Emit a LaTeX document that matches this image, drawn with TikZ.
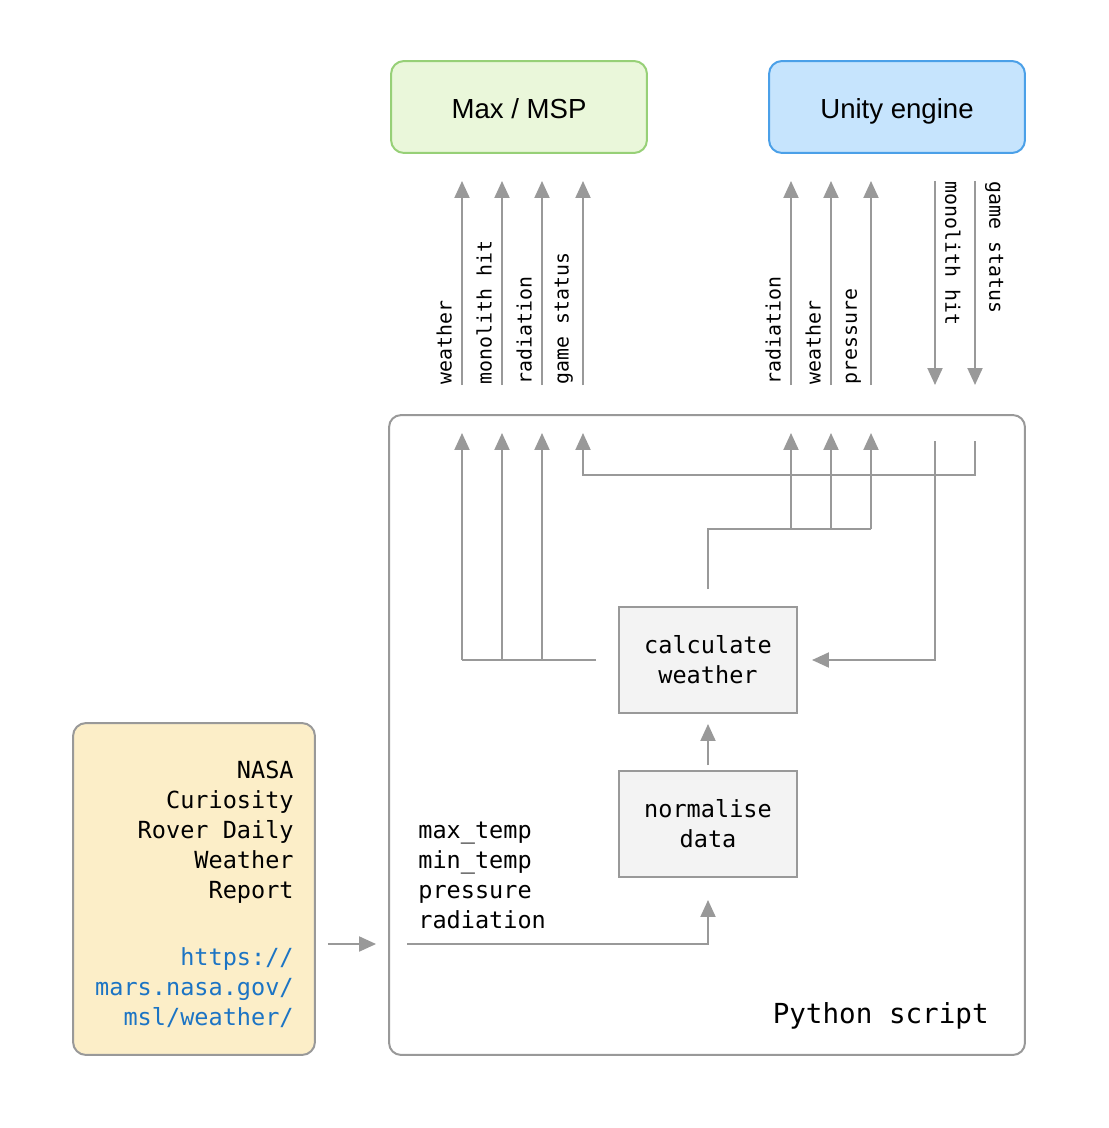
\documentclass[tikz,border=0pt]{standalone}
\usepackage{fontspec}
\setmainfont{Liberation Sans}
\setmonofont{DejaVu Sans Mono}
\usepackage{xcolor}
\usepackage{tikz}
\usetikzlibrary{arrows.meta, positioning}
\definecolor{linegray}{HTML}{999999}
\definecolor{maxfill}{HTML}{EAF7DA}
\definecolor{maxdraw}{HTML}{97D077}
\definecolor{unityfill}{HTML}{C6E4FD}
\definecolor{unitydraw}{HTML}{4BA0E8}
\definecolor{nasafill}{HTML}{FCEEC8}
\definecolor{boxfill}{HTML}{F3F3F3}
\definecolor{linkblue}{HTML}{1C74C4}
\newcommand{\enginetext}{\fontsize{15.7}{19}\selectfont}
\newcommand{\monotext}{\ttfamily\fontsize{13.4}{17.07}\selectfont}
\newcommand{\scripttext}{\ttfamily\fontsize{15.7}{19}\selectfont}
\newcommand{\signaltext}{\ttfamily\fontsize{11.3}{14}\selectfont}
\tikzstyle{engine} = [rectangle, rounded corners=0.26cm, minimum width=5.12cm,
minimum height=1.84cm, text centered, text height=0.5cm, text depth=0.02cm,
line width=0.04cm, font=\enginetext]
\tikzstyle{container} = [rectangle, rounded corners=0.24cm, minimum
width=12.72cm, minimum height=12.8cm, draw=linegray, line width=0.04cm]
\tikzstyle{source} = [rectangle, rounded corners=0.26cm, minimum width=4.84cm,
minimum height=6.64cm, draw=linegray, fill=nasafill, line width=0.04cm]
\tikzstyle{function} = [rectangle, minimum width=3.56cm, minimum height=2.12cm,
align=center, draw=linegray, fill=boxfill, line width=0.04cm, font=\monotext]
\tikzstyle{wire} = [draw=linegray, line width=0.04cm]
\tikzstyle{arrow} = [wire, -{Triangle[length=0.34cm,width=0.3cm]}]
\tikzstyle{signal} = [font=\signaltext, inner xsep=0cm, inner ysep=0.18cm,
anchor=south west, pos=0]

\begin{document}
\begin{tikzpicture}[x=0.02cm, y=-0.02cm]
  \useasboundingbox (0,0) rectangle (1108,1128);
  % Nodes of the setup
  \node (max) [engine, draw=maxdraw, fill=maxfill] at (519,107) {Max / MSP};
  \node (unity) [engine, draw=unitydraw, fill=unityfill] at (897,107)
                {Unity engine};
  \node (python) [container] at (707,735) {};
  \node (pylabel) [anchor=base east, inner sep=0, font=\scripttext]
                  at (989,1023) {Python script};
  \node (calc) [function] at (708,660) {calculate\\weather};
  \node (norm) [function] at (708,824) {normalise\\data};
  \node (fields) [anchor=north west, align=left, inner sep=0, font=\monotext]
                 at (418,822) {max\_temp\\min\_temp\\pressure\\radiation};
  \node (nasa) [source] at (194,889) {};
  \node (nasatext) [anchor=north east, align=right, inner sep=0, font=\monotext]
                   at (294,761) {NASA\\Curiosity\\Rover Daily\\Weather\\Report\\[0.74cm]
                   \textcolor{linkblue}{https://}\\
                   \textcolor{linkblue}{mars.nasa.gov/}\\
                   \textcolor{linkblue}{msl/weather/}};
  % Ends of the signals
  \foreach \x in {462,502,542,583,791,831,871}
    \coordinate (in\x) at (\x,433);
  \foreach \x in {935,975}
    \coordinate (in\x) at (\x,441);
  \coordinate (unitybus) at (871,529);
  \coordinate (statusbus) at (583,475);
  \coordinate (fieldend) at (407,944);
  % Signals between the programs
  \foreach \x/\lab in {462/weather, 502/monolith hit, 542/radiation,
                       583/game status, 791/radiation, 831/weather, 871/pressure} {
    \coordinate (out\x) at (\x,385);
    \coordinate (top\x) at (\x,181);
    \draw [arrow] (out\x) -- (top\x) node[signal, rotate=90] {\lab};
  }
  \foreach \x/\lab in {935/monolith hit, 975/game status} {
    \coordinate (out\x) at (\x,181);
    \coordinate (top\x) at (\x,385);
    \draw [arrow] (out\x) -- (top\x) node[signal, rotate=-90] {\lab};
  }
  % Connections
  \draw [wire, shorten <=0.44cm] (calc.west) -- (calc.west -| in462);
  \foreach \x in {462,502,542}
    \draw [arrow] (calc.west -| in\x) -- (in\x);
  \draw [wire, shorten <=0.34cm] (calc.north) |- (unitybus);
  \foreach \x in {791,831,871}
    \draw [arrow] (unitybus -| in\x) -- (in\x);
  \draw [arrow] (in975) |- (statusbus) -- (in583);
  \draw [arrow, shorten >=0.28cm] (in935) |- (calc.east);
  \draw [arrow, shorten <=0.1cm, shorten >=0.2cm] (norm) -- (calc);
  \draw [arrow, shorten >=0.44cm] (fieldend) -| (norm.south);
  \draw [arrow, shorten <=0.24cm, shorten >=0.24cm]
        (nasa.east |- fieldend) -- (python.west |- fieldend);
\end{tikzpicture}
\end{document}
